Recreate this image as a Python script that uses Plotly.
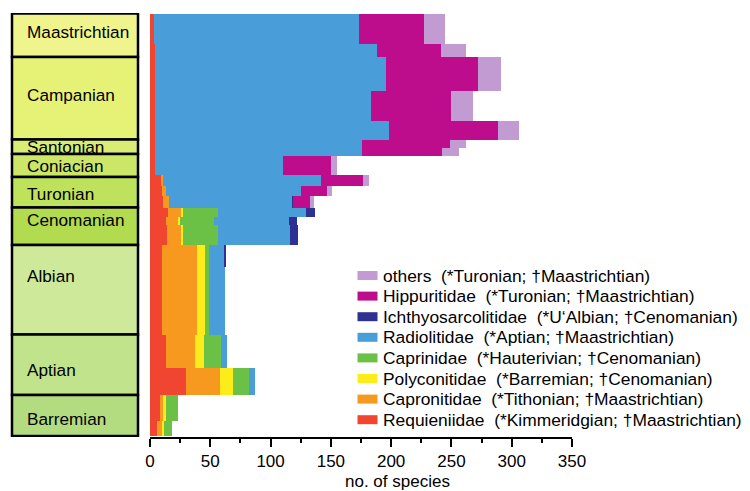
import plotly.graph_objects as go

# ---- time slices (stratigraphic position, 0 = top of Maastrichtian) ----
slice_top = [0, 30, 43.5, 77.5, 107.5, 126.5, 134, 142.5, 161.5, 172.5,
             182.5, 194.5, 203.5, 211, 231.5, 253.5, 321.5, 354.5, 381.5, 407]
slice_base = [30, 43.5, 77.5, 107.5, 126.5, 134, 142.5, 161.5, 172.5, 182.5,
              194.5, 203.5, 211, 231.5, 253.5, 321.5, 354.5, 381.5, 407, 422.5]

# ---- species counts per family and time slice ----
requieniidae = [3, 4, 4, 4, 4, 4, 4, 4, 9, 10, 11, 15, 13, 14, 10, 10, 13, 30, 8, 6]
capronitidae = [0, 0, 0, 0, 0, 0, 0, 0, 2, 3, 5, 11, 11, 12, 29, 29, 24, 28, 3, 4]
polyconitidae = [0, 0, 0, 0, 0, 0, 0, 0, 0, 0, 0, 1, 1, 1, 7, 7, 8, 11, 2, 2]
caprinidae = [0, 0, 0, 0, 0, 0, 0, 0, 0, 0, 0, 29, 28, 29, 3, 3, 14, 13, 10, 6]
radiolitidae = [170, 184, 192, 179, 194, 172, 172, 106, 131, 112, 102, 73, 62, 60, 13, 13, 5, 5, 0, 0]
ichthyosarcolitidae = [0, 0, 0, 0, 0, 0, 0, 0, 0, 0, 1, 8, 7, 7, 1, 0, 0, 0, 0, 0]
hippuritidae = [54, 53, 76, 67, 91, 73, 66, 40, 35, 22, 14, 0, 0, 0, 0, 0, 0, 0, 0, 0]
others = [18, 21, 19, 18, 17, 13, 14, 5, 5, 4, 3, 0, 0, 0, 0, 0, 0, 0, 0, 0]

# ---- stages ----
stage_names = ["Maastrichtian", "Campanian", "Santonian", "Coniacian", "Turonian",
               "Cenomanian", "Albian", "Aptian", "Barremian"]
stage_top = [0, 43.5, 126, 140.5, 163.5, 194, 231.5, 321, 381.5]
stage_base = [43.5, 126, 140.5, 163.5, 194, 231.5, 321, 381.5, 422.5]
stage_colors = ["#F0F48C", "#E6F276", "#D9EC74", "#CCE768", "#BFE25C",
                "#B2DB50", "#CFE99A", "#C1E38C", "#B3DC80"]
stage_label_y = [18.5, 81.5, 133.5, 152.5, 180, 206.5, 262.5, 356.5, 405]

# ---- families (bottom of stack first) ----
families = [
    ("Requieniidae", "(*Kimmeridgian; †Maastrichtian)", requieniidae, "#EF4531"),
    ("Capronitidae", "(*Tithonian; †Maastrichtian)", capronitidae, "#F7981F"),
    ("Polyconitidae", "(*Barremian; †Cenomanian)", polyconitidae, "#FCEC1A"),
    ("Caprinidae", "(*Hauterivian; †Cenomanian)", caprinidae, "#6BC146"),
    ("Radiolitidae", "(*Aptian; †Maastrichtian)", radiolitidae, "#499EDA"),
    ("Ichthyosarcolitidae", "(*U‘Albian; †Cenomanian)", ichthyosarcolitidae, "#2E3191"),
    ("Hippuritidae", "(*Turonian; †Maastrichtian)", hippuritidae, "#BE0D8C"),
    ("others", "(*Turonian; †Maastrichtian)", others, "#C29BD2"),
]

centers = [(a + b) / 2 for a, b in zip(slice_top, slice_base)]
heights = [b - a for a, b in zip(slice_top, slice_base)]

FONT = "Arial, Liberation Sans, sans-serif"
W, H = 750, 491
ML, MR, MT, MB = 150, 178, 13, 54
PW = W - ML - MR


def px_to_paper(px):
    return (px - ML) / PW


fig = go.Figure()
for name, span, vals, col in families:
    fig.add_trace(go.Bar(
        orientation="h", y=centers, x=vals, width=heights,
        marker=dict(color=col, line=dict(width=0)),
        name=name, showlegend=False,
    ))

shapes = []
annotations = []

# stage column on the left
for nm, t, b, c, ly in zip(stage_names, stage_top, stage_base, stage_colors, stage_label_y):
    shapes.append(dict(type="rect", xref="paper", yref="y",
                       x0=px_to_paper(12), x1=px_to_paper(138), y0=t, y1=b,
                       fillcolor=c, line=dict(color="black", width=2.5), layer="above"))
    annotations.append(dict(xref="paper", yref="y", x=px_to_paper(24.5), y=ly,
                            xanchor="left", yanchor="middle", text=nm, showarrow=False,
                            font=dict(family=FONT, size=17.2, color="black")))

# legend, top entry = top of stack
row0, drow = 262.0, 20.6
for i, (name, span, vals, col) in enumerate(reversed(families)):
    yc = row0 + i * drow
    shapes.append(dict(type="rect", xref="paper", yref="y",
                       x0=px_to_paper(357.5), x1=px_to_paper(377.5),
                       y0=yc - 4.5, y1=yc + 4.5,
                       fillcolor=col, line=dict(width=0), layer="above"))
    annotations.append(dict(xref="paper", yref="y", x=px_to_paper(381), y=yc,
                            xanchor="left", yanchor="middle",
                            text=name + "\u00a0\u00a0" + span, showarrow=False,
                            font=dict(family=FONT, size=17.4, color="black")))

# x-axis title
annotations.append(dict(xref="paper", yref="paper", x=px_to_paper(397), y=0,
                        yshift=-44, xanchor="center", yanchor="middle",
                        text="no. of species", showarrow=False,
                        font=dict(family=FONT, size=17, color="black")))

fig.update_layout(
    width=W, height=H,
    margin=dict(l=ML, r=MR, t=MT, b=MB, pad=0),
    paper_bgcolor="white", plot_bgcolor="white",
    barmode="stack", bargap=0,
    shapes=shapes, annotations=annotations,
    font=dict(family=FONT, size=17, color="black"),
    xaxis=dict(range=[0, 350], dtick=50, tick0=0, showgrid=False, zeroline=False,
               showline=True, linecolor="black", linewidth=2,
               ticks="outside", ticklen=8, tickwidth=2, tickcolor="black",
               tickfont=dict(family=FONT, size=17, color="black"),
               minor=dict(dtick=25, tick0=0, ticks="outside", ticklen=4,
                          tickwidth=2, tickcolor="black", showgrid=False)),
    yaxis=dict(range=[423.5, -0.5], visible=False, showgrid=False, zeroline=False),
)

fig.write_html("out.html")
